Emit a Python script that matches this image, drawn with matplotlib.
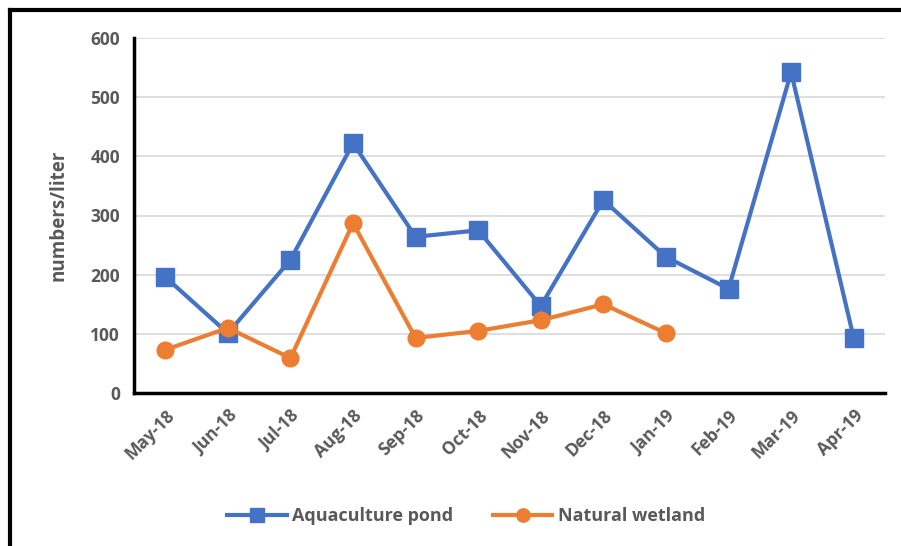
import matplotlib.pyplot as plt
from matplotlib.lines import Line2D

# data
months = ['May-18', 'Jun-18', 'Jul-18', 'Aug-18', 'Sep-18', 'Oct-18',
          'Nov-18', 'Dec-18', 'Jan-19', 'Feb-19', 'Mar-19', 'Apr-19']
pond = [196, 101, 225, 422, 264, 275, 147, 326, 230, 176, 542, 93]
wetland = [73, 110, 59, 287, 93, 105, 123, 150, 101]

plt.rcParams['font.family'] = ['Open Sans', 'DejaVu Sans']
grey = '#595959'

fig = plt.figure(figsize=(9.01, 5.46), dpi=100)
ax = fig.add_axes([134 / 901, 1 - 393 / 546, 751 / 901, 355 / 546])

x = list(range(len(months)))
ax.plot(x, pond, color='#4472C4', lw=3, marker='s', ms=13,
        label='Aquaculture pond', zorder=3)
ax.plot(x[:len(wetland)], wetland, color='#ED7D31', lw=3, marker='o', ms=12,
        label='Natural wetland', zorder=3)

ax.set_xlim(-0.5, 11.5)
ax.set_ylim(0, 600)
ax.set_yticks(range(0, 601, 100))
ax.set_xticks(x)
ax.set_xticklabels(months, rotation=45, ha='right', rotation_mode='anchor')
ax.grid(axis='y', color='#d9d9d9', lw=1.2)
ax.set_axisbelow(True)
ax.tick_params(length=0, labelsize=12.5, labelcolor=grey, pad=10)
for lab in ax.get_xticklabels() + ax.get_yticklabels():
    lab.set_fontweight('bold')
for s in ['top', 'right']:
    ax.spines[s].set_visible(False)
for s in ['left', 'bottom']:
    ax.spines[s].set_linewidth(2.5)
    ax.spines[s].set_color('black')

ax.set_ylabel('numbers/liter', fontsize=13.5, fontweight='bold', color=grey, labelpad=16)

leg = fig.legend(loc='center', bbox_to_anchor=(466 / 901, 1 - 516 / 546), ncol=2,
                 frameon=False, fontsize=13, handlelength=3.3, handletextpad=0.3,
                 columnspacing=2.2, markerscale=0.8)
for t in leg.get_texts():
    t.set_fontweight('bold')
    t.set_color(grey)

# outer frame (left and top edges visible)
fig.add_artist(Line2D([10 / 901, 10 / 901], [0, 1 - 10 / 546], color='black', lw=3,
                      transform=fig.transFigure, solid_capstyle='projecting'))
fig.add_artist(Line2D([10 / 901, 1], [1 - 10 / 546, 1 - 10 / 546], color='black', lw=3,
                      transform=fig.transFigure, solid_capstyle='projecting'))

fig.savefig('out.png', dpi=100)
